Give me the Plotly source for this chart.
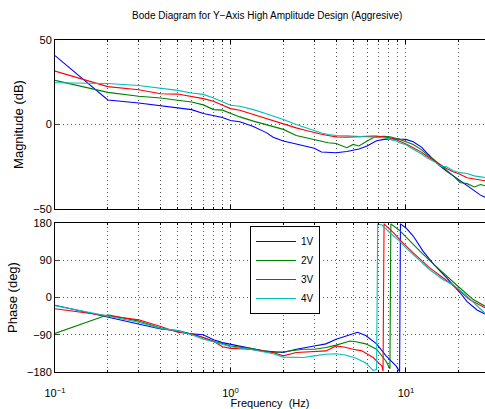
import plotly.graph_objects as go

# ---------------- data ----------------
freq_mag = [0.1, 0.2, 0.3, 0.4, 0.5, 0.6, 0.7, 0.8, 0.9, 1.0, 1.13, 1.35, 1.6, 1.75, 2.0,
            2.37, 2.7, 3.0, 3.3, 3.6, 4.0, 4.6, 5.0, 5.4, 6.0, 6.5, 6.8, 7.5, 8.1, 8.8,
            9.2, 10, 11, 12.3, 13.1, 14.5, 15.6, 17, 18.6, 20.3, 22.3, 24.5, 26.6, 28.2]

mag_1v = [40.8, 14.5, 12.7, 11.2, 10.0, 8.8, 6.5, 5.3, 4.1, 2.4, 1.6, -1.2, -4.8, -7.5, -9.8,
          -11.5, -12.7, -14.0, -16.3, -16.6, -16.7, -16.0, -15.1, -14.5, -12.7, -10.4, -9.6, -8.8, -8.4, -8.4,
          -8.6, -8.8, -10.2, -13.5, -16.7, -21.0, -24.5, -27.5, -30.4, -33.5, -36.3, -39.2, -41.8, -43.0]
mag_2v = [26.1, 19.0, 16.7, 15.7, 14.3, 13.3, 11.6, 8.8, 8.5, 6.5, 4.5, 2.0, 0.0, -1.2, -2.9,
          -6.5, -7.8, -8.8, -9.5, -10.8, -11.2, -13.7, -11.8, -12.7, -9.8, -7.8, -7.3, -7.0, -7.3, -8.0,
          -8.8, -10.2, -11.8, -15.0, -17.6, -21.0, -23.5, -27.0, -30.4, -34.3, -35.0, -37.0, -35.5, -36.3]
mag_3v = [31.6, 22.4, 20.6, 18.2, 18.0, 16.7, 15.3, 13.7, 11.4, 9.4, 8.4, 5.9, 3.3, 2.0, 0.0,
          -2.0, -3.6, -4.9, -5.8, -6.5, -7.3, -7.5, -7.3, -7.0, -6.9, -6.9, -6.9, -7.2, -7.8, -9.0,
          -9.8, -11.5, -13.7, -16.5, -18.6, -21.5, -23.5, -26.0, -28.0, -29.4, -31.5, -32.4, -33.0, -33.3]
mag_4v = [24.7, 24.3, 23.1, 21.6, 20.2, 18.6, 17.8, 15.7, 13.5, 11.4, 10.8, 8.8, 6.3, 5.0, 2.9,
          0.0, -2.0, -3.9, -5.0, -5.9, -6.5, -6.7, -6.9, -6.9, -6.9, -7.1, -7.3, -7.8, -8.8, -9.8,
          -10.8, -12.0, -14.7, -17.5, -19.6, -22.0, -24.5, -25.0, -27.4, -28.5, -29.0, -30.4, -31.0, -31.4]

freq_ph_1v = [0.1, 0.2, 0.3, 0.4, 0.5, 0.6, 0.7, 0.8, 0.9, 1.0, 1.29, 1.53, 2.0, 2.37, 3.0, 3.5,
              4.0, 4.8, 5.3, 5.9, 6.8, 7.7, 8.8, 9.2, 9.3, 10, 11, 12.5, 14.4, 17.1, 20.3, 22.3, 25.4, 28.2]
phase_1v = [-18.8, -48, -64, -76, -80, -88, -90, -102, -109, -113, -124, -129, -133, -125, -117, -112,
            -101, -89, -84, -92, -112, -141, -166, -179, 178, 168, 148.5, 112, 80, 47, 12, -10, -30, -40]

freq_ph_2v = [0.1, 0.2, 0.3, 0.4, 0.5, 0.6, 0.7, 0.8, 0.9, 1.0, 1.29, 1.75, 2.0, 2.6, 3.0, 3.5,
              4.0, 4.8, 5.2, 5.9, 6.8, 7.7, 8.1, 8.2, 9.2, 10.5, 12, 14.4, 17.1, 20.3, 24.2, 28.2]
phase_2v = [-86.7, -41.7, -57, -74, -82, -88, -96.5, -106, -111, -117, -123, -133, -131, -125, -125, -121,
            -115, -105, -107, -112, -125, -154, -172, 178, 162, 136, 112, 80, 51, 23, -5, -21]

freq_ph_3v = [0.1, 0.2, 0.3, 0.4, 0.5, 0.6, 0.7, 0.8, 0.9, 1.0, 1.29, 1.75, 2.0, 2.37, 3.0, 3.5,
              4.0, 4.5, 5.0, 5.6, 6.5, 7.3, 7.4, 7.5, 8.5, 9.6, 11, 13.6, 16.3, 19.4, 23, 28.2]
phase_3v = [-27, -43, -54, -70, -84, -88, -96.5, -106, -119, -123, -125, -133, -141, -133, -131, -129,
            -117, -120, -125, -129, -145, -166, -178, 178, 156, 132, 108, 72, 47, 23, -5, -25]

freq_ph_4v = [0.1, 0.2, 0.3, 0.4, 0.5, 0.6, 0.7, 0.8, 0.9, 1.0, 1.29, 1.75, 2.0, 2.6, 3.0, 3.5,
              4.0, 4.5, 5.2, 5.9, 6.5, 6.8, 6.9, 7.3, 8.1, 9.2, 10, 11.4, 13.6, 16.3, 18.6, 22.3, 25.4, 28.2]
phase_4v = [-19.6, -45, -60, -74.5, -80, -90, -100.6, -107, -113, -119, -125, -136, -144, -145, -141, -137,
            -136, -139, -147, -158, -176, -174, 177, 175, 156.5, 136, 120, 97.5, 67.6, 43, 31, 3, -21, -38]

series_names = ["1V", "2V", "3V", "4V"]
series_colors = ["#0000FF", "#008000", "#FF0000", "#00BFBF"]

title_text = "Bode Diagram for Y\u2212Axis High Amplitude Design (Aggresive)"
mag_ticks = [-50, 0, 50]
phase_ticks = [-180, -90, 0, 90, 180]
decade_ticks = [0.1, 1, 10]
decade_labels = ["10<sup>\u22121</sup>", "10<sup>0</sup>", "10<sup>1</sup>"]
minor_ticks = [m * d for d in (0.1, 1, 10) for m in range(2, 10) if m * d < 29]

# ---------------- figure ----------------
mags = [mag_1v, mag_2v, mag_3v, mag_4v]
phs = [(freq_ph_1v, phase_1v), (freq_ph_2v, phase_2v), (freq_ph_3v, phase_3v), (freq_ph_4v, phase_4v)]

fig = go.Figure()
for name, col, m in zip(series_names, series_colors, mags):
    fig.add_trace(go.Scatter(x=freq_mag, y=m, mode="lines", name=name, showlegend=False,
                             line=dict(color=col, width=1.1), xaxis="x", yaxis="y"))
for name, col, (f, p) in zip(series_names, series_colors, phs):
    fig.add_trace(go.Scatter(x=f, y=p, mode="lines", name=name, showlegend=True,
                             line=dict(color=col, width=1.1), xaxis="x2", yaxis="y2"))

font = dict(family="Liberation Sans, Arial, sans-serif", size=11, color="black")
GRIDC = "#555555"
GRIDDASH = "1px,3px"
grid = dict(showgrid=True, gridcolor=GRIDC, griddash=GRIDDASH, gridwidth=1)

xcommon = dict(type="log", range=[-1, 1.4503], showline=True, linecolor="black", linewidth=1,
               mirror="ticks", ticks="inside", ticklen=4, tickcolor="black",
               tickvals=decade_ticks, zeroline=False,
               minor=dict(tickvals=minor_ticks, ticks="inside", ticklen=2, tickcolor="black",
                          showgrid=True, gridcolor=GRIDC, griddash=GRIDDASH, gridwidth=1),
               **grid)

fig.update_layout(
    width=485, height=409,
    margin=dict(l=55, r=0, t=40, b=37),
    paper_bgcolor="white", plot_bgcolor="white",
    font=font,
    title=dict(text=title_text, x=0.551, xanchor="center", y=0.963, yanchor="middle",
               font=dict(size=10)),
    xaxis=dict(domain=[0, 1], anchor="y", showticklabels=False, **xcommon),
    xaxis2=dict(domain=[0, 1], anchor="y2", ticktext=decade_labels, showticklabels=True,
                ticklabelstandoff=11,
                title=dict(text="Frequency  (Hz)", standoff=0, font=dict(size=11)), **xcommon),
    yaxis=dict(domain=[0.491, 1], anchor="x", range=[-50, 50], tickvals=mag_ticks,
               showline=True, linecolor="black", linewidth=1, ticks="inside", ticklen=4,
               zeroline=False, title=dict(text="Magnitude (dB)", standoff=6), **grid),
    yaxis2=dict(domain=[0, 0.4488], anchor="x2", range=[-180, 180], tickvals=phase_ticks,
                showline=True, linecolor="black", linewidth=1, ticks="inside", ticklen=4,
                zeroline=False, title=dict(text="Phase (deg)", standoff=6), **grid),
    legend=dict(x=0.4535, y=0.4398, xanchor="left", yanchor="top",
                bgcolor="white", bordercolor="black", borderwidth=1,
                font=dict(size=10), itemwidth=40, tracegroupgap=0),
)

fig.write_html("out.html")
